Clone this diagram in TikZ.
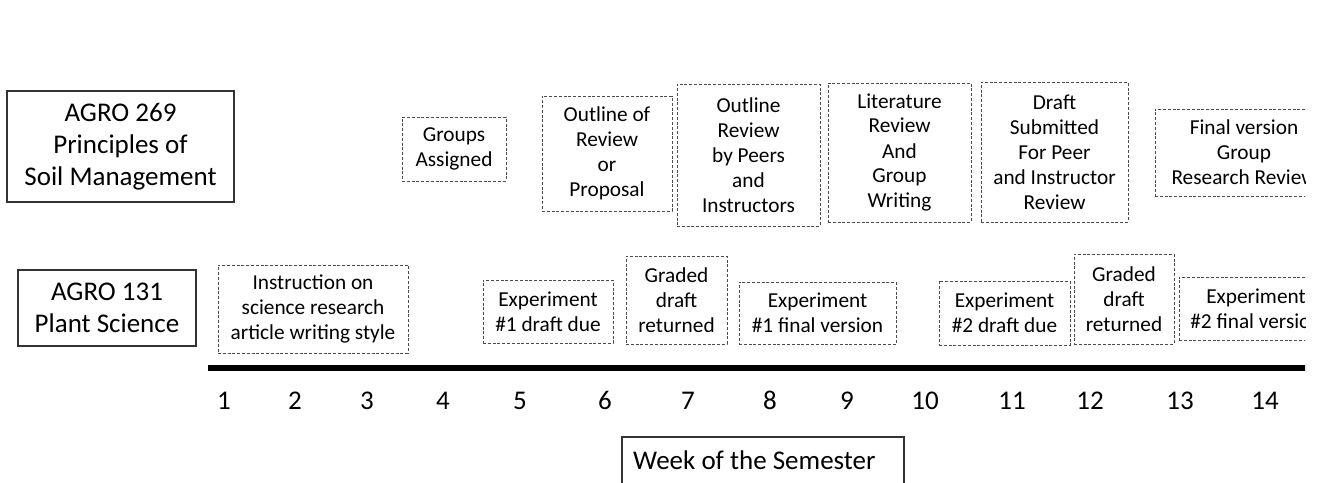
\documentclass[tikz,border=0pt]{standalone}
\usepackage{fontspec}
\setmainfont{Carlito}
\begin{document}
\begin{tikzpicture}[x=1pt,y=-1pt,
  bigtxt/.style={font=\fontsize{27}{32}\selectfont},
  medtxt/.style={font=\fontsize{21.3}{25}\selectfont},
  solidbox/.style={draw=black!80, line width=1.3pt, inner sep=0pt, align=center, bigtxt, text=black},
  dbox/.style={draw=black!70, line width=1pt, dash pattern=on 3pt off 1.8pt, inner sep=0pt, align=center, medtxt, text=black},
  wknum/.style={bigtxt, text=black, inner sep=0pt, anchor=base},
  bar/.style={line width=6pt, black}
]
\useasboundingbox (0,0) rectangle (1320,482);
\begin{scope}
\clip (0,0) rectangle (1305,482);
% course labels
\node[solidbox, minimum width=227pt, minimum height=111pt] (a269) at (120.5,146.5) {AGRO 269\\Principles of\\Soil Management};
\node[solidbox, minimum width=178pt, minimum height=76pt] (a131) at (107,308) {AGRO 131\\Plant Science};
% top row
\node[dbox, minimum width=104pt, minimum height=64pt] (groups) at (454,149) {Groups\\Assigned};
\node[dbox, minimum width=130pt, minimum height=115pt] (outl) at (607,153.5) {Outline of\\Review\\or\\Proposal};
\node[dbox, minimum width=143pt, minimum height=142pt] (outrev) at (748.5,155) {Outline\\Review\\by Peers\\and\\Instructors};
\node[dbox, minimum width=143pt, minimum height=139pt] (lit) at (899.5,152.5) {Literature\\Review\\And\\Group\\Writing};
\node[dbox, minimum width=147pt, minimum height=140pt] (draft) at (1054.5,152) {Draft\\Submitted\\For Peer\\and Instructor\\Review};
\node[dbox, minimum width=178pt, minimum height=87pt] (final) at (1244,152.5) {Final version\\Group\\Research Review};
% bottom row
\node[dbox, minimum width=190pt, minimum height=88pt] (instr) at (313,309) {Instruction on\\science research\\article writing style};
\node[dbox, minimum width=130pt, minimum height=63pt] (exa) at (548,311.5) {Experiment\\\#1 draft due};
\node[dbox, minimum width=101pt, minimum height=88pt] (gra) at (676.5,300) {Graded\\draft\\returned};
\node[dbox, minimum width=157pt, minimum height=62pt] (exb) at (817.5,313) {Experiment\\\#1 final version};
\node[dbox, minimum width=131pt, minimum height=64pt] (exc) at (1004.5,313) {Experiment\\\#2 draft due};
\node[dbox, minimum width=100pt, minimum height=90pt] (grb) at (1124,299) {Graded\\draft\\returned};
\node[dbox, minimum width=154pt, minimum height=63pt] (exd) at (1256,308.5) {Experiment\\\#2 final version};
% timeline
\coordinate (tlstart) at (208,368);
\coordinate (tlend) at (1320,368);
\draw[bar] (tlstart) -- (tlend);
% week numbers
\node[wknum] (w1) at (224,409) {1};
\node[wknum] (w2) at (295,409) {2};
\node[wknum] (w3) at (367,409) {3};
\node[wknum] (w4) at (443,409) {4};
\node[wknum] (w5) at (520,409) {5};
\node[wknum] (w6) at (605,409) {6};
\node[wknum] (w7) at (688,409) {7};
\node[wknum] (w8) at (770,409) {8};
\node[wknum] (w9) at (847,409) {9};
\node[wknum] (w10) at (925,409) {10};
\node[wknum] (w11) at (1012,409) {11};
\node[wknum] (w12) at (1090,409) {12};
\node[wknum] (w13) at (1180,409) {13};
\node[wknum] (w14) at (1265,409) {14};
% axis title
\draw[draw=black!80, line width=1.3pt] (622,437) rectangle (904,490);
\node[bigtxt, text=black, inner sep=0pt, anchor=base west] (wktitle) at (633,469) {Week of the Semester};
\end{scope}
\end{tikzpicture}
\end{document}
